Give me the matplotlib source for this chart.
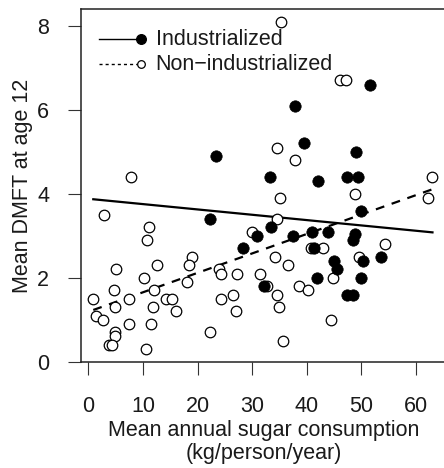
import numpy as np
import matplotlib
matplotlib.use('Agg')
import matplotlib.pyplot as plt

plt.rcParams['font.family'] = ['Liberation Sans', 'DejaVu Sans']

# ------------------------------------------------------------
# Sugar consumption (kg/person/year) vs mean DMFT at age 12
# ------------------------------------------------------------
ind_sugar = [51.6, 37.8, 39.5, 49.0, 23.3, 33.3, 42.1, 47.3, 49.3, 49.9,
             22.2, 33.4, 30.8, 37.4, 40.9, 43.9, 48.8, 48.5, 28.3, 41.4,
             41.9, 32.2, 45.0, 45.6, 50.2, 53.6, 50.0, 47.4, 48.4]
ind_dmft = [6.6, 6.1, 5.2, 5.0, 4.9, 4.4, 4.3, 4.4, 4.4, 3.6,
            3.4, 3.2, 3.0, 3.0, 3.1, 3.1, 3.05, 2.9, 2.7, 2.7,
            2.0, 1.8, 2.4, 2.2, 2.4, 2.5, 2.0, 1.6, 1.6]

non_sugar = [35.3, 46.0, 47.2, 34.5, 37.8, 7.8, 63.0, 48.9, 35.1, 62.1,
             2.9, 34.6, 11.1, 29.9, 10.7, 54.3, 40.8, 42.9, 34.2, 49.6,
             19.0, 18.5, 12.5, 36.6, 23.9, 5.0, 24.2, 27.3, 31.4, 10.1,
             44.7, 18.1, 32.7, 38.6, 40.2, 4.7, 12.1, 34.5, 26.5, 0.9,
             7.5, 14.2, 15.3, 24.2, 4.8, 11.8, 34.9, 16.0, 27.0, 1.35,
             2.6, 44.4, 7.5, 11.5, 4.8, 22.3, 4.8, 3.8, 4.3, 10.6, 35.6]
non_dmft = [8.1, 6.7, 6.7, 5.1, 4.8, 4.4, 4.4, 4.0, 3.9, 3.9,
            3.5, 3.4, 3.2, 3.1, 2.9, 2.8, 2.7, 2.7, 2.5, 2.5,
            2.5, 2.3, 2.3, 2.3, 2.2, 2.2, 2.1, 2.1, 2.1, 2.0,
            2.0, 1.9, 1.8, 1.8, 1.7, 1.7, 1.7, 1.6, 1.6, 1.5,
            1.5, 1.5, 1.5, 1.5, 1.3, 1.3, 1.3, 1.2, 1.2, 1.1,
            1.0, 1.0, 0.9, 0.9, 0.7, 0.7, 0.6, 0.4, 0.4, 0.3, 0.5]

# fitted lines: (intercept, slope)
ind_fit = (3.88, -0.0127)
non_fit = (1.19, 0.0463)

# ------------------------------------------------------------
fig = plt.figure(figsize=(4.44, 4.68), dpi=100)
ax = fig.add_axes([0.1818, 0.2259, 0.823, 0.7549])

all_x = np.array(ind_sugar + non_sugar)
xs = np.array([all_x.min(), all_x.max()])

ax.plot(xs, ind_fit[0] + ind_fit[1] * xs, color='black', lw=1.6, zorder=2)
ax.plot(xs, non_fit[0] + non_fit[1] * xs, color='black', lw=1.6,
        dashes=(4, 3.5), zorder=2)

ax.plot(non_sugar, non_dmft, 'o', ms=7.6, mfc='white', mec='black',
        mew=0.9, ls='none', zorder=3)
ax.plot(ind_sugar, ind_dmft, 'o', ms=8.2, mfc='black', mec='black',
        mew=0.5, ls='none', zorder=4)

ax.set_xlim(-1.4, 65.5)
ax.set_ylim(-0.014, 8.40)
ax.set_xticks(range(0, 61, 10))
ax.set_yticks(range(0, 9, 2))

for sp in ax.spines.values():
    sp.set_linewidth(1.1)
    sp.set_color('#222222')

ax.tick_params(axis='both', length=9.6, width=0.8, labelsize=15.5,
               color='#333333', labelcolor='#1a1a1a')
ax.tick_params(axis='x', pad=14.5)
ax.tick_params(axis='y', pad=13)

ax.set_xlabel('Mean annual sugar consumption\n(kg/person/year)',
              fontsize=15.5, color='#1a1a1a', labelpad=2.5, linespacing=1.12)
ax.set_ylabel('Mean DMFT at age 12', fontsize=15.5, color='#1a1a1a',
              labelpad=3)

# legend drawn by hand: line segment with the point at its right end
leg = [('Industrialized', '-', 'black', 0.915),
       ('Non\u2212industrialized', (0, (2.2, 2.2)), 'white', 0.844)]
for label, ls, fc, yy in leg:
    ax.plot([0.051, 0.158], [yy, yy], transform=ax.transAxes, color='black',
            lw=1.0, ls=ls, clip_on=False)
    ax.plot([0.164], [yy], 'o', transform=ax.transAxes, ms=7 if fc == 'black' else 5.5,
            mfc=fc, mec='black', mew=0.9, clip_on=False)
    ax.text(0.205, yy, label, transform=ax.transAxes, fontsize=15.5,
            va='center', ha='left', color='#1a1a1a')

fig.savefig('out.png', dpi=100)
